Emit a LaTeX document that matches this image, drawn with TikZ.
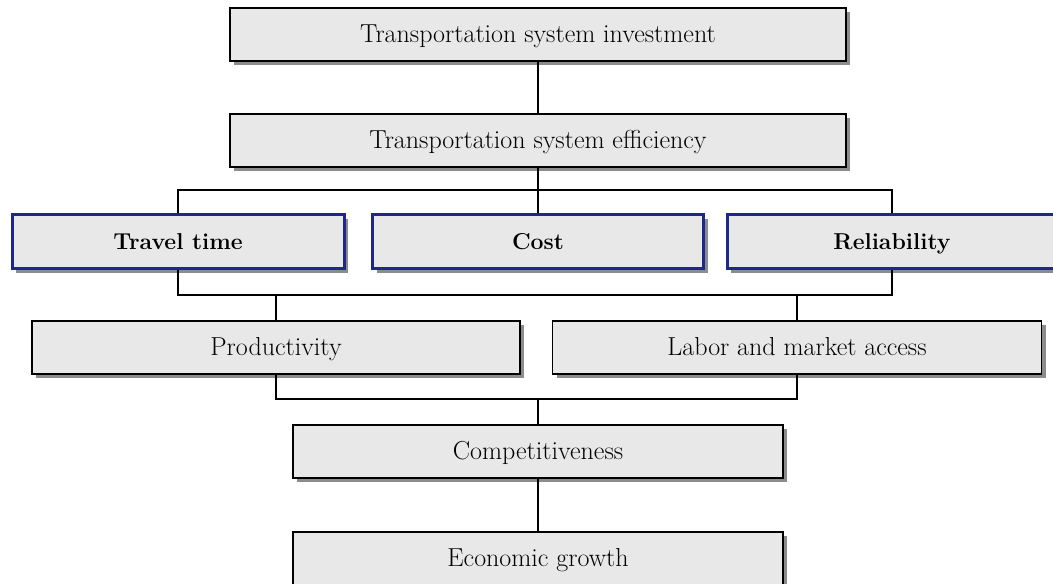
\documentclass[tikz,border=0pt]{standalone}
\usepackage{tikz}
\usepackage{xcolor}
\usetikzlibrary{positioning, shadows}

\definecolor{boxfill}{RGB}{232, 232, 232}
\definecolor{boxshade}{RGB}{140, 140, 140}
\definecolor{keyblue}{RGB}{30, 40, 140}

\begin{document}
\begin{tikzpicture}[x=1pt, y=1pt,
    box/.style={draw=black, line width=1.8pt, fill=boxfill, rectangle,
      inner sep=0pt, minimum height=53pt, text height=20pt, text depth=4pt,
      font=\fontsize{26}{30}\selectfont,
      drop shadow={shadow xshift=4pt, shadow yshift=-4pt, fill=boxshade, opacity=1}},
    keybox/.style={box, draw=keyblue, line width=3pt, minimum height=54pt,
      font=\fontsize{23}{27}\selectfont\bfseries},
    link/.style={draw=black, line width=2pt}]
  \useasboundingbox (0,0) rectangle (1053,584);
  % Junctions
  \coordinate (j1) at (538, 394);
  \coordinate (j2) at (538, 289);
  \coordinate (j3) at (538, 185);
  % Connectors (behind the boxes)
  \path[link] (178, 394) -- (892, 394);
  \path[link] (178, 289) -- (892, 289);
  \path[link] (178, 394) -- (178, 289);
  \path[link] (892, 394) -- (892, 289);
  % Top chain
  \node[box, minimum width=616pt] (inv) at (538, 549.5) {Transportation system investment};
  \node[box, minimum width=616pt, below=51.5pt of inv] (eff) {Transportation system efficiency};
  % Efficiency factors
  \node[keybox, minimum width=332pt] (travel) at (178, 342) {Travel time};
  \node[keybox, minimum width=331pt] (cost) at (538, 342) {Cost};
  \node[keybox, minimum width=330pt] (rel) at (892, 342) {Reliability};
  % Effects
  \node[box, minimum width=488pt] (prod) at (276, 236.5) {Productivity};
  \node[box, minimum width=489pt] (labor) at (797, 236.5) {Labor and market access};
  \node[box, minimum width=490pt] (comp) at (538, 132.5) {Competitiveness};
  \node[box, minimum width=490pt, below=52pt of comp] (growth) {Economic growth};
  % Links
  \draw[link] (inv) -- (eff);
  \draw[link] (eff.south) -- (j1);
  \draw[link] (travel.north) |- (j1) -| (rel.north);
  \draw[link] (j1) -- (cost.north);
  \draw[link] (travel.south) |- (j2) -| (rel.south);
  \draw[link] (prod.north) -- (prod.north |- j2);
  \draw[link] (labor.north) -- (labor.north |- j2);
  \draw[link] (prod.south) |- (j3) -| (labor.south);
  \draw[link] (j3) -- (comp.north);
  \draw[link] (comp) -- (growth);
\end{tikzpicture}
\end{document}
